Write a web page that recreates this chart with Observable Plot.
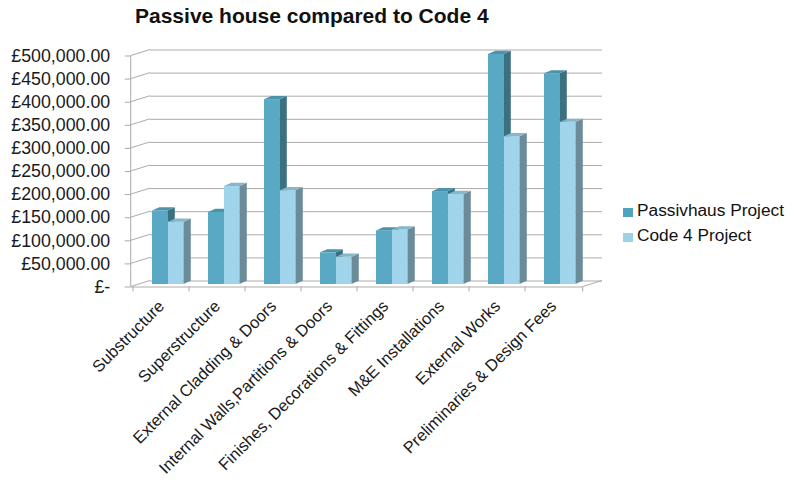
<!DOCTYPE html>
<html>
<head>
<meta charset="utf-8">
<script src="https://cdn.jsdelivr.net/npm/d3@7"></script>
<script src="https://cdn.jsdelivr.net/npm/@observablehq/plot@0.6"></script>
<style>
  body { margin: 0; background: #fff; font-family: "Liberation Sans", Arial, sans-serif; }
  #wrap { position: relative; width: 800px; height: 480px; overflow: hidden; }
  #title { position: absolute; left: 135px; top: 5px; font-weight: bold; font-size: 21px; line-height: 21px; color: #111; white-space: nowrap; }
  #chart { position: absolute; left: 0; top: 30px; }
  .lg { position: absolute; font-size: 17.3px; line-height: 17.3px; color: #111; white-space: nowrap; }
  .sw { position: absolute; width: 10px; height: 9px; }
</style>
</head>
<body>
<div id="wrap">
  <div id="title">Passive house compared to Code 4</div>
  <div id="chart"></div>
  <div class="sw" style="left:623px;top:208px;background:#4fa3c1"></div>
  <div class="lg" style="left:637px;top:202px">Passivhaus Project</div>
  <div class="sw" style="left:623px;top:233px;background:#9cd2e8"></div>
  <div class="lg" style="left:637px;top:227px">Code 4 Project</div>
</div>
<script>
const categories = [
  "Substructure",
  "Superstructure",
  "External Cladding & Doors",
  "Internal Walls,Partitions & Doors",
  "Finishes, Decorations & Fittings",
  "M&E Installations",
  "External Works",
  "Preliminaries & Design Fees"
];
const passivhaus = [159000, 156000, 400000, 68500, 116000, 201000, 498000, 456000];
const code4 = [135000, 212000, 203000, 59000, 118000, 195000, 320000, 351000];
const yTicks = [0, 50000, 100000, 150000, 200000, 250000, 300000, 350000, 400000, 450000, 500000];

const data = categories.map((c, i) => ({category: c, passivhaus: passivhaus[i], code4: code4[i]}));

const fmt = d => d === 0 ? "£-" : "£" + d3.format(",.2f")(d);

const FY = 2.5;      // front plane offset
const BX = 19.3, BY = -3.5; // back wall offset
const DX = 7.3, DY = -3.2;  // bar depth
const grid = "#ababab";

const colors = {
  p: {front: "#59a9c5", side: "#3b7081", top: "#4b93ab"},
  c: {front: "#9fd4eb", side: "#6b8b99", top: "#86b6c9"}
};

const chart = Plot.plot({
  width: 800,
  height: 450,
  marginTop: 23,
  marginBottom: 196,
  marginLeft: 130.7,
  marginRight: 217.3,
  style: {fontFamily: "'Liberation Sans', Arial, sans-serif", background: "transparent"},
  x: {domain: categories, padding: 0, axis: null},
  y: {domain: [0, 500000], axis: null},
  marks: [
    Plot.ruleY(yTicks, {dx: BX, dy: BY, stroke: grid, strokeWidth: 1}),
    Plot.ruleY([0], {dy: FY, stroke: grid, strokeWidth: 1}),
    Plot.axisY(yTicks, {tickFormat: fmt, tickSize: 6, tickPadding: 15, dy: FY, fontSize: 17.8, fill: "#1a1a1a", stroke: grid}),
    Plot.barY(data, {x: "category", y: "passivhaus", insetLeft: 19, insetRight: 21.5, fill: colors.p.front}),
    Plot.barY(data, {x: "category", y: "code4", insetLeft: 35, insetRight: 5.5, fill: colors.c.front}),
    Plot.text(categories, {x: d => d, frameAnchor: "bottom", dy: 19, dx: 0, rotate: -45, textAnchor: "end", lineAnchor: "middle", fontSize: 16.5, fill: "#1a1a1a"})
  ]
});
document.getElementById("chart").appendChild(chart);

// 3D decorations using Plot's scales
const xs = chart.scale("x"), ys = chart.scale("y");
const bw = xs.bandwidth;
const X = c => xs.apply(c);
const Y = v => ys.apply(v);
const x0 = xs.range[0], x1 = xs.range[1];
const svg = d3.select(chart);

const deco = svg.insert("g", ":first-child").attr("stroke", grid).attr("fill", "none");
// left wall connectors
yTicks.forEach(t => {
  deco.append("line").attr("x1", x0).attr("y1", Y(t) + FY).attr("x2", x0 + BX).attr("y2", Y(t) + BY);
});
// front vertical axis
deco.append("line").attr("x1", x0).attr("x2", x0).attr("y1", Y(500000) + FY).attr("y2", Y(0) + FY);
// right floor edge
deco.append("line").attr("x1", x1).attr("y1", Y(0) + FY).attr("x2", x1 + BX).attr("y2", Y(0) + BY);
// category ticks
categories.concat([null]).forEach(c => {
  const x = c === null ? x1 : X(c);
  deco.append("line").attr("x1", x).attr("x2", x).attr("y1", Y(0) + FY).attr("y2", Y(0) + FY + 5);
});

// side and top faces
const barGroups = svg.selectAll("g[aria-label='bar']").nodes();
function faces(key, left, width, col, beforeNode) {
  const g = d3.select(beforeNode.parentNode).insert("g", () => beforeNode.nextSibling);
  data.forEach(d => {
    const xl = X(d.category) + left, xr = xl + width;
    const yt = Y(d[key]), yb = Y(0);
    g.append("polygon")
      .attr("points", [[xr, yb], [xr + DX, yb + DY], [xr + DX, yt + DY], [xr, yt]].map(p => p.join(",")).join(" "))
      .attr("fill", col.side);
    g.append("polygon")
      .attr("points", [[xl, yt], [xr, yt], [xr + DX, yt + DY], [xl + DX, yt + DY]].map(p => p.join(",")).join(" "))
      .attr("fill", col.top);
  });
}
faces("passivhaus", 19, bw - 19 - 21.5, colors.p, barGroups[0]);
faces("code4", 35, bw - 35 - 5.5, colors.c, barGroups[1]);
</script>
</body>
</html>
